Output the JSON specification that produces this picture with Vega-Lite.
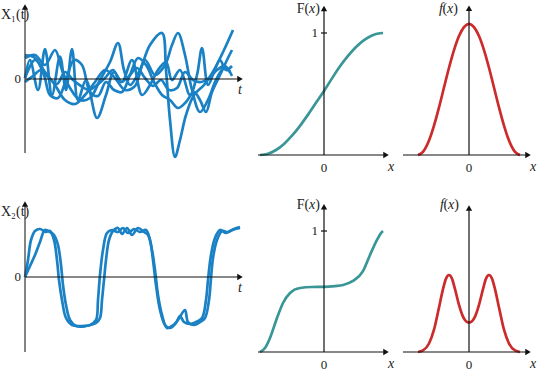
{
  "$schema": "https://vega.github.io/schema/vega-lite/v6.json",
  "padding": 0,
  "spacing": 0,
  "columns": 3,
  "bounds": "flush",
  "resolve": {"scale": {"x": "independent", "y": "independent"}},
  "config": {"view": {"stroke": null}, "text": {"font": "Liberation Serif", "fontSize": 13, "color": "#222"}},
  "concat": [
        {
          "width": 250, "height": 180,
          "encoding": {
            "x": {"field": "x", "type": "quantitative", "scale": {"domain": [-1.25, 11.25], "nice": false, "zero": false}, "axis": null},
            "y": {"field": "y", "type": "quantitative", "scale": {"domain": [-4.04, 3.16], "nice": false, "zero": false}, "axis": null}
          },
          "layer": [
            {
              "data": {"values": [
                {"s": 1, "x": 0, "y": 0.84}, {"s": 1, "x": 0.5, "y": 0.96}, {"s": 1, "x": 1.0, "y": 0.56}, {"s": 1, "x": 1.5, "y": 1.16}, {"s": 1, "x": 1.85, "y": 0.36}, {"s": 1, "x": 2.25, "y": -0.36}, {"s": 1, "x": 2.75, "y": -0.84}, {"s": 1, "x": 3.25, "y": -0.76}, {"s": 1, "x": 3.75, "y": -0.04}, {"s": 1, "x": 4.25, "y": 0.68}, {"s": 1, "x": 4.65, "y": 1.44}, {"s": 1, "x": 4.95, "y": 0.36}, {"s": 1, "x": 5.25, "y": -0.24}, {"s": 1, "x": 5.75, "y": 0.36}, {"s": 1, "x": 6.25, "y": 1.36}, {"s": 1, "x": 6.85, "y": 1.84}, {"s": 1, "x": 7.05, "y": 0.36}, {"s": 1, "x": 7.25, "y": -1.64}, {"s": 1, "x": 7.5, "y": -3.12}, {"s": 1, "x": 7.75, "y": -2.44}, {"s": 1, "x": 8.05, "y": -1.44}, {"s": 1, "x": 8.45, "y": -0.64}, {"s": 1, "x": 8.95, "y": -0.24}, {"s": 1, "x": 9.45, "y": 0.36}, {"s": 1, "x": 9.95, "y": 1.16}, {"s": 1, "x": 10.4, "y": 1.96},
                {"s": 2, "x": 0, "y": 0.04}, {"s": 2, "x": 0.5, "y": 0.76}, {"s": 2, "x": 1.0, "y": 0.28}, {"s": 2, "x": 1.5, "y": -0.24}, {"s": 2, "x": 2.0, "y": -0.84}, {"s": 2, "x": 2.5, "y": -1.0}, {"s": 2, "x": 3.0, "y": -0.64}, {"s": 2, "x": 3.5, "y": -0.12}, {"s": 2, "x": 4.0, "y": 0.36}, {"s": 2, "x": 4.5, "y": 0.04}, {"s": 2, "x": 5.0, "y": -0.44}, {"s": 2, "x": 5.5, "y": -0.28}, {"s": 2, "x": 6.0, "y": 0.76}, {"s": 2, "x": 6.5, "y": 0.16}, {"s": 2, "x": 7.0, "y": 0.56}, {"s": 2, "x": 7.35, "y": 1.36}, {"s": 2, "x": 7.65, "y": 1.84}, {"s": 2, "x": 8.0, "y": 0.96}, {"s": 2, "x": 8.35, "y": -0.44}, {"s": 2, "x": 8.75, "y": -1.32}, {"s": 2, "x": 9.15, "y": -0.84}, {"s": 2, "x": 9.55, "y": -0.04}, {"s": 2, "x": 9.95, "y": 0.44}, {"s": 2, "x": 10.25, "y": 0.28},
                {"s": 3, "x": 0, "y": 0.04}, {"s": 3, "x": 0.25, "y": 0.76}, {"s": 3, "x": 0.65, "y": -0.44}, {"s": 3, "x": 1.0, "y": 1.2}, {"s": 3, "x": 1.35, "y": -0.64}, {"s": 3, "x": 1.75, "y": 0.9}, {"s": 3, "x": 2.05, "y": -0.44}, {"s": 3, "x": 2.35, "y": 1.2}, {"s": 3, "x": 2.65, "y": -0.84}, {"s": 3, "x": 3.05, "y": -0.04}, {"s": 3, "x": 3.6, "y": -1.56}, {"s": 3, "x": 4.05, "y": -0.64}, {"s": 3, "x": 4.45, "y": 0.28}, {"s": 3, "x": 4.85, "y": -0.12}, {"s": 3, "x": 5.35, "y": 0.76}, {"s": 3, "x": 5.85, "y": -0.64}, {"s": 3, "x": 6.25, "y": -0.24}, {"s": 3, "x": 6.65, "y": 0.36}, {"s": 3, "x": 7.05, "y": 0.68}, {"s": 3, "x": 7.35, "y": -0.04}, {"s": 3, "x": 7.75, "y": 0.36}, {"s": 3, "x": 8.25, "y": -0.64}, {"s": 3, "x": 8.6, "y": 0.16}, {"s": 3, "x": 8.85, "y": 1.24}, {"s": 3, "x": 9.15, "y": -0.24}, {"s": 3, "x": 9.45, "y": 0.28}, {"s": 3, "x": 9.75, "y": 0.76}, {"s": 3, "x": 10.05, "y": 0.36}, {"s": 3, "x": 10.35, "y": 0.52},
                {"s": 4, "x": 0, "y": 0.96}, {"s": 4, "x": 0.5, "y": 0.84}, {"s": 4, "x": 0.95, "y": 0.16}, {"s": 4, "x": 1.25, "y": -0.64}, {"s": 4, "x": 1.65, "y": -0.76}, {"s": 4, "x": 2.05, "y": -0.04}, {"s": 4, "x": 2.45, "y": 0.76}, {"s": 4, "x": 2.85, "y": 0.56}, {"s": 4, "x": 3.25, "y": -0.52}, {"s": 4, "x": 3.65, "y": -0.68}, {"s": 4, "x": 4.05, "y": -0.12}, {"s": 4, "x": 4.45, "y": -0.44}, {"s": 4, "x": 4.85, "y": -0.52}, {"s": 4, "x": 5.25, "y": 0.16}, {"s": 4, "x": 5.65, "y": 0.84}, {"s": 4, "x": 6.05, "y": 0.56}, {"s": 4, "x": 6.45, "y": -0.12}, {"s": 4, "x": 6.85, "y": -0.64}, {"s": 4, "x": 7.25, "y": -0.84}, {"s": 4, "x": 7.65, "y": -1.16}, {"s": 4, "x": 8.05, "y": -0.92}, {"s": 4, "x": 8.45, "y": -0.52}, {"s": 4, "x": 8.75, "y": -0.84}, {"s": 4, "x": 9.05, "y": -1.32}, {"s": 4, "x": 9.35, "y": -0.52}, {"s": 4, "x": 9.75, "y": 0.16}, {"s": 4, "x": 10.1, "y": 0.76}, {"s": 4, "x": 10.35, "y": 1.16},
                {"s": 5, "x": 0, "y": -0.12}, {"s": 5, "x": 0.4, "y": 0.12}, {"s": 5, "x": 0.8, "y": 0.36}, {"s": 5, "x": 1.2, "y": 0.04}, {"s": 5, "x": 1.6, "y": -0.2}, {"s": 5, "x": 2.0, "y": 0.28}, {"s": 5, "x": 2.4, "y": -0.04}, {"s": 5, "x": 2.8, "y": -0.28}, {"s": 5, "x": 3.2, "y": -0.44}, {"s": 5, "x": 3.6, "y": -0.24}, {"s": 5, "x": 4.0, "y": 0.04}, {"s": 5, "x": 4.4, "y": 0.36}, {"s": 5, "x": 4.8, "y": -0.12}, {"s": 5, "x": 5.2, "y": 0.12}, {"s": 5, "x": 5.6, "y": 0.44}, {"s": 5, "x": 6.0, "y": 0.04}, {"s": 5, "x": 6.4, "y": -0.28}, {"s": 5, "x": 6.8, "y": -0.04}, {"s": 5, "x": 7.2, "y": -0.44}, {"s": 5, "x": 7.6, "y": -0.36}, {"s": 5, "x": 8.0, "y": 0.28}, {"s": 5, "x": 8.4, "y": -0.04}, {"s": 5, "x": 8.8, "y": -0.12}, {"s": 5, "x": 9.2, "y": 0.04}, {"s": 5, "x": 9.6, "y": 0.36}, {"s": 5, "x": 10.0, "y": 0.52}, {"s": 5, "x": 10.35, "y": 0.12}
              ]},
              "mark": {"type": "line", "interpolate": "catmull-rom", "strokeWidth": 2.7, "color": "#1a81c4"},
              "encoding": {"detail": {"field": "s", "type": "nominal"}}
            },
            {"data": {"values": [{"x": 0, "x2": 10.75, "y": 0}]}, "mark": {"type": "rule", "color": "#111", "strokeWidth": 1.2}, "encoding": {"x2": {"field": "x2"}}},
            {"data": {"values": [{"x": 0, "y": -2.96, "y2": 2.84}]}, "mark": {"type": "rule", "color": "#333", "strokeWidth": 1.2}, "encoding": {"y2": {"field": "y2"}}},
            {"data": {"values": [{"x": 10.75, "y": 0, "shape": "triangle-right"}, {"x": 0, "y": 2.88, "shape": "triangle-up"}]}, "mark": {"type": "point", "filled": true, "size": 40, "color": "#111", "opacity": 1}, "encoding": {"shape": {"field": "shape", "type": "nominal", "scale": null}}},
            {"data": {"values": [{"x": -1.2, "y": 2.56, "label": "X₁(t)"}]}, "mark": {"type": "text", "align": "left", "baseline": "middle", "fontSize": 14}, "encoding": {"text": {"field": "label"}}},
            {"data": {"values": [{"x": 0, "y": 0, "label": "0"}]}, "mark": {"type": "text", "align": "right", "baseline": "middle", "dx": -4}, "encoding": {"text": {"field": "label"}}},
            {"data": {"values": [{"x": 10.75, "y": -0.44, "label": "t"}]}, "mark": {"type": "text", "align": "center", "baseline": "middle", "fontStyle": "italic", "fontSize": 14}, "encoding": {"text": {"field": "label"}}}
          ]
        },
        {
          "width": 140, "height": 180,
          "encoding": {
            "x": {"field": "x", "type": "quantitative", "scale": {"domain": [-3.7, 3.3], "nice": false, "zero": false}, "axis": null},
            "y": {"field": "y", "type": "quantitative", "scale": {"domain": [-0.205, 1.2705], "nice": false, "zero": false}, "axis": null}
          },
          "layer": [
            {
              "data": {"values": [
                {"x": -3.2, "y": 0}, {"x": -2.8, "y": 0.0104}, {"x": -2.4, "y": 0.041}, {"x": -2.0, "y": 0.091}, {"x": -1.6, "y": 0.158}, {"x": -1.2, "y": 0.239}, {"x": -0.8, "y": 0.331}, {"x": -0.4, "y": 0.429}, {"x": 0, "y": 0.525}, {"x": 0.4, "y": 0.628}, {"x": 0.8, "y": 0.727}, {"x": 1.2, "y": 0.812}, {"x": 1.6, "y": 0.885}, {"x": 2.0, "y": 0.942}, {"x": 2.4, "y": 0.98}, {"x": 2.8, "y": 0.998}, {"x": 2.95, "y": 1.0}
              ]},
              "mark": {"type": "line", "interpolate": "monotone", "strokeWidth": 2.7, "color": "#3a9696"}
            },
            {"data": {"values": [{"x": -3.3, "x2": 3.1, "y": 0}]}, "mark": {"type": "rule", "color": "#111", "strokeWidth": 1.2}, "encoding": {"x2": {"field": "x2"}}},
            {"data": {"values": [{"x": 0, "y": 0, "y2": 1.2}]}, "mark": {"type": "rule", "color": "#111", "strokeWidth": 1.2}, "encoding": {"y2": {"field": "y2"}}},
            {"data": {"values": [{"x": 3.1, "y": 0, "shape": "triangle-right"}, {"x": 0, "y": 1.2, "shape": "triangle-up"}]}, "mark": {"type": "point", "filled": true, "size": 40, "color": "#111", "opacity": 1}, "encoding": {"shape": {"field": "shape", "type": "nominal", "scale": null}}},
            {"data": {"values": [{"x": 0, "y": 1}]}, "mark": {"type": "tick", "orient": "horizontal", "size": 6, "thickness": 1.2, "color": "#111", "opacity": 1}},
            {"data": {"values": [{"x": 0, "y": 1.197, "label": ")"}]}, "mark": {"type": "text", "align": "right", "baseline": "middle", "fontSize": 14, "dx": -4}, "encoding": {"text": {"field": "label"}}},
            {"data": {"values": [{"x": 0, "y": 1.197, "label": "x"}]}, "mark": {"type": "text", "align": "right", "baseline": "middle", "fontSize": 14, "fontStyle": "italic", "dx": -8.7}, "encoding": {"text": {"field": "label"}}},
            {"data": {"values": [{"x": 0, "y": 1.197, "label": "F("}]}, "mark": {"type": "text", "align": "right", "baseline": "middle", "fontSize": 14, "dx": -14.9}, "encoding": {"text": {"field": "label"}}},
            {"data": {"values": [{"x": 0, "y": 1, "label": "1"}]}, "mark": {"type": "text", "align": "right", "baseline": "middle", "dx": -6}, "encoding": {"text": {"field": "label"}}},
            {"data": {"values": [{"x": 0, "y": -0.107, "label": "0"}]}, "mark": {"type": "text", "align": "center", "baseline": "middle"}, "encoding": {"text": {"field": "label"}}},
            {"data": {"values": [{"x": 3.35, "y": -0.098, "label": "x"}]}, "mark": {"type": "text", "align": "center", "baseline": "middle", "fontStyle": "italic", "fontSize": 14}, "encoding": {"text": {"field": "label"}}}
          ]
        },
        {
          "width": 147, "height": 180,
          "encoding": {
            "x": {"field": "x", "type": "quantitative", "scale": {"domain": [-3.95, 3.4], "nice": false, "zero": false}, "axis": null},
            "y": {"field": "y", "type": "quantitative", "scale": {"domain": [-0.191, 1.183], "nice": false, "zero": false}, "axis": null}
          },
          "layer": [
            {
              "data": {"values": [
                {"x": -2.55, "y": 0}, {"x": -2.3, "y": 0.024}, {"x": -2.0, "y": 0.11}, {"x": -1.75, "y": 0.224}, {"x": -1.5, "y": 0.363}, {"x": -1.25, "y": 0.515}, {"x": -1.0, "y": 0.666}, {"x": -0.75, "y": 0.801}, {"x": -0.5, "y": 0.908}, {"x": -0.25, "y": 0.976}, {"x": 0, "y": 1}, {"x": 0.25, "y": 0.976}, {"x": 0.5, "y": 0.908}, {"x": 0.75, "y": 0.801}, {"x": 1.0, "y": 0.666}, {"x": 1.25, "y": 0.515}, {"x": 1.5, "y": 0.363}, {"x": 1.75, "y": 0.224}, {"x": 2.0, "y": 0.11}, {"x": 2.3, "y": 0.024}, {"x": 2.55, "y": 0}
              ]},
              "mark": {"type": "line", "interpolate": "monotone", "strokeWidth": 2.7, "color": "#cc2b2b"}
            },
            {"data": {"values": [{"x": -3.3, "x2": 2.95, "y": 0}]}, "mark": {"type": "rule", "color": "#111", "strokeWidth": 1.2}, "encoding": {"x2": {"field": "x2"}}},
            {"data": {"values": [{"x": 0, "y": 0, "y2": 1.12}]}, "mark": {"type": "rule", "color": "#111", "strokeWidth": 1.2}, "encoding": {"y2": {"field": "y2"}}},
            {"data": {"values": [{"x": 2.95, "y": 0, "shape": "triangle-right"}, {"x": 0, "y": 1.12, "shape": "triangle-up"}]}, "mark": {"type": "point", "filled": true, "size": 40, "color": "#111", "opacity": 1}, "encoding": {"shape": {"field": "shape", "type": "nominal", "scale": null}}},
            {"data": {"values": [{"x": 0, "y": 1.115, "label": ")"}]}, "mark": {"type": "text", "align": "right", "baseline": "middle", "fontSize": 14, "dx": -11}, "encoding": {"text": {"field": "label"}}},
            {"data": {"values": [{"x": 0, "y": 1.115, "label": "x"}]}, "mark": {"type": "text", "align": "right", "baseline": "middle", "fontSize": 14, "fontStyle": "italic", "dx": -15.7}, "encoding": {"text": {"field": "label"}}},
            {"data": {"values": [{"x": 0, "y": 1.115, "label": "("}]}, "mark": {"type": "text", "align": "right", "baseline": "middle", "fontSize": 14, "dx": -21.9}, "encoding": {"text": {"field": "label"}}},
            {"data": {"values": [{"x": 0, "y": 1.115, "label": "f"}]}, "mark": {"type": "text", "align": "right", "baseline": "middle", "fontSize": 14, "fontStyle": "italic", "dx": -26}, "encoding": {"text": {"field": "label"}}},
            {"data": {"values": [{"x": 0, "y": -0.099, "label": "0"}]}, "mark": {"type": "text", "align": "center", "baseline": "middle"}, "encoding": {"text": {"field": "label"}}},
            {"data": {"values": [{"x": 3.2, "y": -0.092, "label": "x"}]}, "mark": {"type": "text", "align": "center", "baseline": "middle", "fontStyle": "italic", "fontSize": 14}, "encoding": {"text": {"field": "label"}}}
          ]
        },
        {
          "width": 250, "height": 191,
          "encoding": {
            "x": {"field": "x", "type": "quantitative", "scale": {"domain": [-1.25, 11.25], "nice": false, "zero": false}, "axis": null},
            "y": {"field": "y", "type": "quantitative", "scale": {"domain": [-3.76, 3.88], "nice": false, "zero": false}, "axis": null}
          },
          "layer": [
            {
              "data": {"values": [
                {"s": 1, "x": 0, "y": 0}, {"s": 1, "x": 0.15, "y": 0.68}, {"s": 1, "x": 0.3, "y": 1.48}, {"s": 1, "x": 0.5, "y": 1.84}, {"s": 1, "x": 0.75, "y": 1.92}, {"s": 1, "x": 1.05, "y": 1.8}, {"s": 1, "x": 1.25, "y": 1.84}, {"s": 1, "x": 1.45, "y": 1.48}, {"s": 1, "x": 1.6, "y": 0.68}, {"s": 1, "x": 1.7, "y": -0.12}, {"s": 1, "x": 1.85, "y": -0.92}, {"s": 1, "x": 2.05, "y": -1.64}, {"s": 1, "x": 2.35, "y": -1.92}, {"s": 1, "x": 2.75, "y": -1.96}, {"s": 1, "x": 3.25, "y": -1.92}, {"s": 1, "x": 3.55, "y": -1.72}, {"s": 1, "x": 3.65, "y": -0.92}, {"s": 1, "x": 3.75, "y": 0.08}, {"s": 1, "x": 3.9, "y": 1.08}, {"s": 1, "x": 4.1, "y": 1.76}, {"s": 1, "x": 4.35, "y": 1.88}, {"s": 1, "x": 4.65, "y": 1.8}, {"s": 1, "x": 4.9, "y": 1.96}, {"s": 1, "x": 5.15, "y": 1.76}, {"s": 1, "x": 5.45, "y": 1.92}, {"s": 1, "x": 5.75, "y": 1.8}, {"s": 1, "x": 6.05, "y": 1.88}, {"s": 1, "x": 6.25, "y": 1.48}, {"s": 1, "x": 6.4, "y": 0.68}, {"s": 1, "x": 6.55, "y": -0.32}, {"s": 1, "x": 6.75, "y": -1.32}, {"s": 1, "x": 7.0, "y": -1.92}, {"s": 1, "x": 7.25, "y": -2.04}, {"s": 1, "x": 7.55, "y": -1.84}, {"s": 1, "x": 7.75, "y": -1.56}, {"s": 1, "x": 7.95, "y": -1.8}, {"s": 1, "x": 8.25, "y": -1.88}, {"s": 1, "x": 8.55, "y": -1.8}, {"s": 1, "x": 8.85, "y": -1.64}, {"s": 1, "x": 9.05, "y": -0.92}, {"s": 1, "x": 9.15, "y": -0.12}, {"s": 1, "x": 9.3, "y": 0.88}, {"s": 1, "x": 9.5, "y": 1.56}, {"s": 1, "x": 9.75, "y": 1.88}, {"s": 1, "x": 10.05, "y": 1.76}, {"s": 1, "x": 10.35, "y": 1.88}, {"s": 1, "x": 10.75, "y": 1.96},
                {"s": 2, "x": 0, "y": 0}, {"s": 2, "x": 0.25, "y": 0.44}, {"s": 2, "x": 0.5, "y": 0.88}, {"s": 2, "x": 0.75, "y": 1.4}, {"s": 2, "x": 1.0, "y": 1.88}, {"s": 2, "x": 1.25, "y": 1.8}, {"s": 2, "x": 1.45, "y": 1.68}, {"s": 2, "x": 1.65, "y": 1.28}, {"s": 2, "x": 1.8, "y": 0.48}, {"s": 2, "x": 1.9, "y": -0.32}, {"s": 2, "x": 2.05, "y": -1.12}, {"s": 2, "x": 2.25, "y": -1.72}, {"s": 2, "x": 2.55, "y": -1.96}, {"s": 2, "x": 3.05, "y": -1.96}, {"s": 2, "x": 3.55, "y": -1.84}, {"s": 2, "x": 3.75, "y": -1.64}, {"s": 2, "x": 3.85, "y": -0.92}, {"s": 2, "x": 3.95, "y": -0.12}, {"s": 2, "x": 4.05, "y": 0.68}, {"s": 2, "x": 4.2, "y": 1.48}, {"s": 2, "x": 4.4, "y": 1.84}, {"s": 2, "x": 4.65, "y": 1.96}, {"s": 2, "x": 4.85, "y": 1.72}, {"s": 2, "x": 5.1, "y": 1.96}, {"s": 2, "x": 5.35, "y": 1.68}, {"s": 2, "x": 5.65, "y": 1.96}, {"s": 2, "x": 5.95, "y": 1.8}, {"s": 2, "x": 6.15, "y": 1.68}, {"s": 2, "x": 6.35, "y": 1.08}, {"s": 2, "x": 6.5, "y": 0.28}, {"s": 2, "x": 6.65, "y": -0.72}, {"s": 2, "x": 6.85, "y": -1.52}, {"s": 2, "x": 7.1, "y": -2.04}, {"s": 2, "x": 7.35, "y": -1.96}, {"s": 2, "x": 7.65, "y": -1.72}, {"s": 2, "x": 8.0, "y": -1.32}, {"s": 2, "x": 8.15, "y": -1.8}, {"s": 2, "x": 8.45, "y": -1.92}, {"s": 2, "x": 8.75, "y": -1.8}, {"s": 2, "x": 9.0, "y": -1.64}, {"s": 2, "x": 9.2, "y": -0.92}, {"s": 2, "x": 9.3, "y": -0.04}, {"s": 2, "x": 9.4, "y": 0.76}, {"s": 2, "x": 9.6, "y": 1.48}, {"s": 2, "x": 9.85, "y": 1.84}, {"s": 2, "x": 10.15, "y": 1.8}, {"s": 2, "x": 10.45, "y": 1.92}, {"s": 2, "x": 10.75, "y": 2.0}
              ]},
              "mark": {"type": "line", "interpolate": "catmull-rom", "strokeWidth": 2.7, "color": "#1a81c4"},
              "encoding": {"detail": {"field": "s", "type": "nominal"}}
            },
            {"data": {"values": [{"x": 0, "x2": 10.75, "y": 0}]}, "mark": {"type": "rule", "color": "#111", "strokeWidth": 1.2}, "encoding": {"x2": {"field": "x2"}}},
            {"data": {"values": [{"x": 0, "y": -3.0, "y2": 2.9}]}, "mark": {"type": "rule", "color": "#333", "strokeWidth": 1.2}, "encoding": {"y2": {"field": "y2"}}},
            {"data": {"values": [{"x": 10.75, "y": 0, "shape": "triangle-right"}, {"x": 0, "y": 2.92, "shape": "triangle-up"}]}, "mark": {"type": "point", "filled": true, "size": 40, "color": "#111", "opacity": 1}, "encoding": {"shape": {"field": "shape", "type": "nominal", "scale": null}}},
            {"data": {"values": [{"x": -1.2, "y": 2.6, "label": "X₂(t)"}]}, "mark": {"type": "text", "align": "left", "baseline": "middle", "fontSize": 14}, "encoding": {"text": {"field": "label"}}},
            {"data": {"values": [{"x": 0, "y": 0, "label": "0"}]}, "mark": {"type": "text", "align": "right", "baseline": "middle", "dx": -4}, "encoding": {"text": {"field": "label"}}},
            {"data": {"values": [{"x": 10.75, "y": -0.44, "label": "t"}]}, "mark": {"type": "text", "align": "center", "baseline": "middle", "fontStyle": "italic", "fontSize": 14}, "encoding": {"text": {"field": "label"}}}
          ]
        },
        {
          "width": 140, "height": 191,
          "encoding": {
            "x": {"field": "x", "type": "quantitative", "scale": {"domain": [-3.7, 3.3], "nice": false, "zero": false}, "axis": null},
            "y": {"field": "y", "type": "quantitative", "scale": {"domain": [-0.157, 1.4215], "nice": false, "zero": false}, "axis": null}
          },
          "layer": [
            {
              "data": {"values": [
                {"x": -3.2, "y": 0}, {"x": -2.95, "y": 0.033}, {"x": -2.7, "y": 0.116}, {"x": -2.35, "y": 0.281}, {"x": -2.05, "y": 0.405}, {"x": -1.7, "y": 0.488}, {"x": -1.2, "y": 0.529}, {"x": -0.6, "y": 0.537}, {"x": -0.05, "y": 0.538}, {"x": 0.55, "y": 0.545}, {"x": 0.95, "y": 0.554}, {"x": 1.45, "y": 0.587}, {"x": 1.95, "y": 0.669}, {"x": 2.3, "y": 0.802}, {"x": 2.65, "y": 0.926}, {"x": 2.85, "y": 0.983}, {"x": 2.95, "y": 1.0}
              ]},
              "mark": {"type": "line", "interpolate": "monotone", "strokeWidth": 2.7, "color": "#3a9696"}
            },
            {"data": {"values": [{"x": -3.3, "x2": 3.1, "y": 0}]}, "mark": {"type": "rule", "color": "#111", "strokeWidth": 1.2}, "encoding": {"x2": {"field": "x2"}}},
            {"data": {"values": [{"x": 0, "y": 0, "y2": 1.2}]}, "mark": {"type": "rule", "color": "#111", "strokeWidth": 1.2}, "encoding": {"y2": {"field": "y2"}}},
            {"data": {"values": [{"x": 3.1, "y": 0, "shape": "triangle-right"}, {"x": 0, "y": 1.2, "shape": "triangle-up"}]}, "mark": {"type": "point", "filled": true, "size": 40, "color": "#111", "opacity": 1}, "encoding": {"shape": {"field": "shape", "type": "nominal", "scale": null}}},
            {"data": {"values": [{"x": 0, "y": 1}]}, "mark": {"type": "tick", "orient": "horizontal", "size": 6, "thickness": 1.2, "color": "#111", "opacity": 1}},
            {"data": {"values": [{"x": 0, "y": 1.215, "label": ")"}]}, "mark": {"type": "text", "align": "right", "baseline": "middle", "fontSize": 14, "dx": -4}, "encoding": {"text": {"field": "label"}}},
            {"data": {"values": [{"x": 0, "y": 1.215, "label": "x"}]}, "mark": {"type": "text", "align": "right", "baseline": "middle", "fontSize": 14, "fontStyle": "italic", "dx": -8.7}, "encoding": {"text": {"field": "label"}}},
            {"data": {"values": [{"x": 0, "y": 1.215, "label": "F("}]}, "mark": {"type": "text", "align": "right", "baseline": "middle", "fontSize": 14, "dx": -14.9}, "encoding": {"text": {"field": "label"}}},
            {"data": {"values": [{"x": 0, "y": 1, "label": "1"}]}, "mark": {"type": "text", "align": "right", "baseline": "middle", "dx": -6}, "encoding": {"text": {"field": "label"}}},
            {"data": {"values": [{"x": 0, "y": -0.107, "label": "0"}]}, "mark": {"type": "text", "align": "center", "baseline": "middle"}, "encoding": {"text": {"field": "label"}}},
            {"data": {"values": [{"x": 3.35, "y": -0.1, "label": "x"}]}, "mark": {"type": "text", "align": "center", "baseline": "middle", "fontStyle": "italic", "fontSize": 14}, "encoding": {"text": {"field": "label"}}}
          ]
        },
        {
          "width": 147, "height": 191,
          "encoding": {
            "x": {"field": "x", "type": "quantitative", "scale": {"domain": [-3.95, 3.4], "nice": false, "zero": false}, "axis": null},
            "y": {"field": "y", "type": "quantitative", "scale": {"domain": [-0.145, 1.313], "nice": false, "zero": false}, "axis": null}
          },
          "layer": [
            {
              "data": {"values": [
                {"x": -2.55, "y": 0}, {"x": -2.3, "y": 0.012}, {"x": -2.0, "y": 0.065}, {"x": -1.75, "y": 0.17}, {"x": -1.5, "y": 0.34}, {"x": -1.3, "y": 0.48}, {"x": -1.15, "y": 0.56}, {"x": -1.0, "y": 0.588}, {"x": -0.85, "y": 0.56}, {"x": -0.7, "y": 0.48}, {"x": -0.5, "y": 0.36}, {"x": -0.3, "y": 0.27}, {"x": -0.15, "y": 0.235}, {"x": 0, "y": 0.225}, {"x": 0.15, "y": 0.235}, {"x": 0.3, "y": 0.27}, {"x": 0.5, "y": 0.36}, {"x": 0.7, "y": 0.48}, {"x": 0.85, "y": 0.56}, {"x": 1.0, "y": 0.588}, {"x": 1.15, "y": 0.56}, {"x": 1.3, "y": 0.48}, {"x": 1.5, "y": 0.34}, {"x": 1.75, "y": 0.17}, {"x": 2.0, "y": 0.065}, {"x": 2.3, "y": 0.012}, {"x": 2.55, "y": 0}
              ]},
              "mark": {"type": "line", "interpolate": "monotone", "strokeWidth": 2.7, "color": "#cc2b2b"}
            },
            {"data": {"values": [{"x": -3.3, "x2": 2.95, "y": 0}]}, "mark": {"type": "rule", "color": "#111", "strokeWidth": 1.2}, "encoding": {"x2": {"field": "x2"}}},
            {"data": {"values": [{"x": 0, "y": 0, "y2": 1.1}]}, "mark": {"type": "rule", "color": "#111", "strokeWidth": 1.2}, "encoding": {"y2": {"field": "y2"}}},
            {"data": {"values": [{"x": 2.95, "y": 0, "shape": "triangle-right"}, {"x": 0, "y": 1.1, "shape": "triangle-up"}]}, "mark": {"type": "point", "filled": true, "size": 40, "color": "#111", "opacity": 1}, "encoding": {"shape": {"field": "shape", "type": "nominal", "scale": null}}},
            {"data": {"values": [{"x": 0, "y": 1.122, "label": ")"}]}, "mark": {"type": "text", "align": "right", "baseline": "middle", "fontSize": 14, "dx": -10}, "encoding": {"text": {"field": "label"}}},
            {"data": {"values": [{"x": 0, "y": 1.122, "label": "x"}]}, "mark": {"type": "text", "align": "right", "baseline": "middle", "fontSize": 14, "fontStyle": "italic", "dx": -14.7}, "encoding": {"text": {"field": "label"}}},
            {"data": {"values": [{"x": 0, "y": 1.122, "label": "("}]}, "mark": {"type": "text", "align": "right", "baseline": "middle", "fontSize": 14, "dx": -20.9}, "encoding": {"text": {"field": "label"}}},
            {"data": {"values": [{"x": 0, "y": 1.122, "label": "f"}]}, "mark": {"type": "text", "align": "right", "baseline": "middle", "fontSize": 14, "fontStyle": "italic", "dx": -25}, "encoding": {"text": {"field": "label"}}},
            {"data": {"values": [{"x": 0, "y": -0.099, "label": "0"}]}, "mark": {"type": "text", "align": "center", "baseline": "middle"}, "encoding": {"text": {"field": "label"}}},
            {"data": {"values": [{"x": 3.2, "y": -0.092, "label": "x"}]}, "mark": {"type": "text", "align": "center", "baseline": "middle", "fontStyle": "italic", "fontSize": 14}, "encoding": {"text": {"field": "label"}}}
          ]
        }
  ]
}
